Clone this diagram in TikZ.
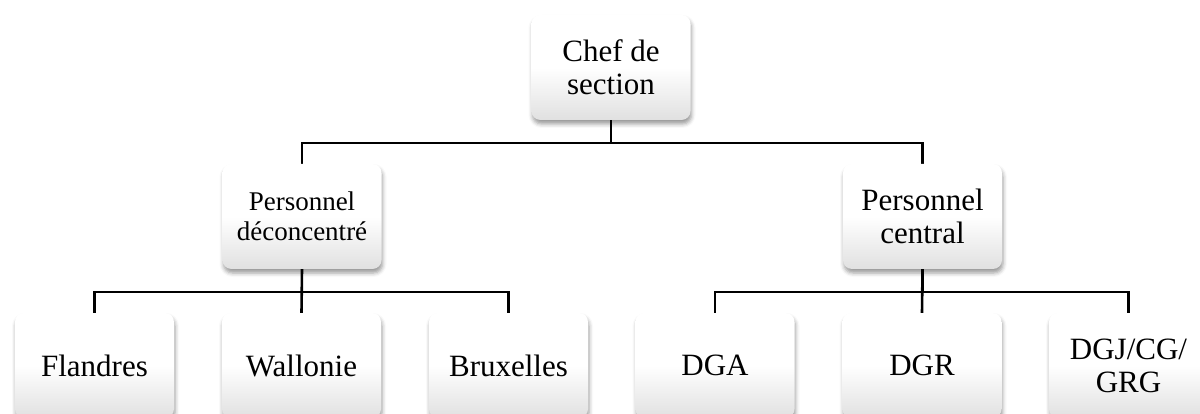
\documentclass[tikz,border=0pt]{standalone}
\usepackage{fontspec}
\setmainfont{Liberation Serif}
\usetikzlibrary{shadows.blur,backgrounds}
\tikzset{
  box/.style={rounded corners=9pt, minimum width=159pt, minimum height=105pt,
    align=center, inner sep=2pt, top color=white, bottom color=black!12,
    middle color=white, shading angle=0,
    blur shadow={shadow xshift=1pt, shadow yshift=-4pt, shadow blur radius=4pt, shadow opacity=40},
    font=\fontsize{31}{33}\selectfont},
  conn/.style={line width=2.6pt, black}
}
\begin{document}
\begin{tikzpicture}[x=1pt,y=-1pt]
\useasboundingbox (0,0) rectangle (1200,414);
\clip (0,0) rectangle (1200,414);
\node[box] (chef) at (611,67.5) {Chef de\\section};
\node[box, font=\fontsize{27}{30}\selectfont] (pd) at (302,216.5) {Personnel\\déconcentré};
\node[box] (pc) at (922.5,216.5) {Personnel\\central};
\node[box] (fl) at (94.5,365.5) {Flandres};
\node[box] (wa) at (301.5,365.5) {Wallonie};
\node[box] (br) at (508.5,365.5) {Bruxelles};
\node[box] (dga) at (715,365.5) {DGA};
\node[box] (dgr) at (922,365.5) {DGR};
\node[box] (dgj) at (1128.5,365.5) {DGJ/CG/\\GRG};
\begin{scope}[on background layer]
\draw[conn] (chef.south) -- ++(0,23) -| (pd.north);
\draw[conn] (chef.south) -- ++(0,23) -| (pc.north);
\draw[conn] (pd.south) -- ++(0,23) -| (fl.north);
\draw[conn] (pd.south) -- (wa.north);
\draw[conn] (pd.south) -- ++(0,23) -| (br.north);
\draw[conn] (pc.south) -- ++(0,23) -| (dga.north);
\draw[conn] (pc.south) -- (dgr.north);
\draw[conn] (pc.south) -- ++(0,23) -| (dgj.north);
\end{scope}
\end{tikzpicture}
\end{document}
